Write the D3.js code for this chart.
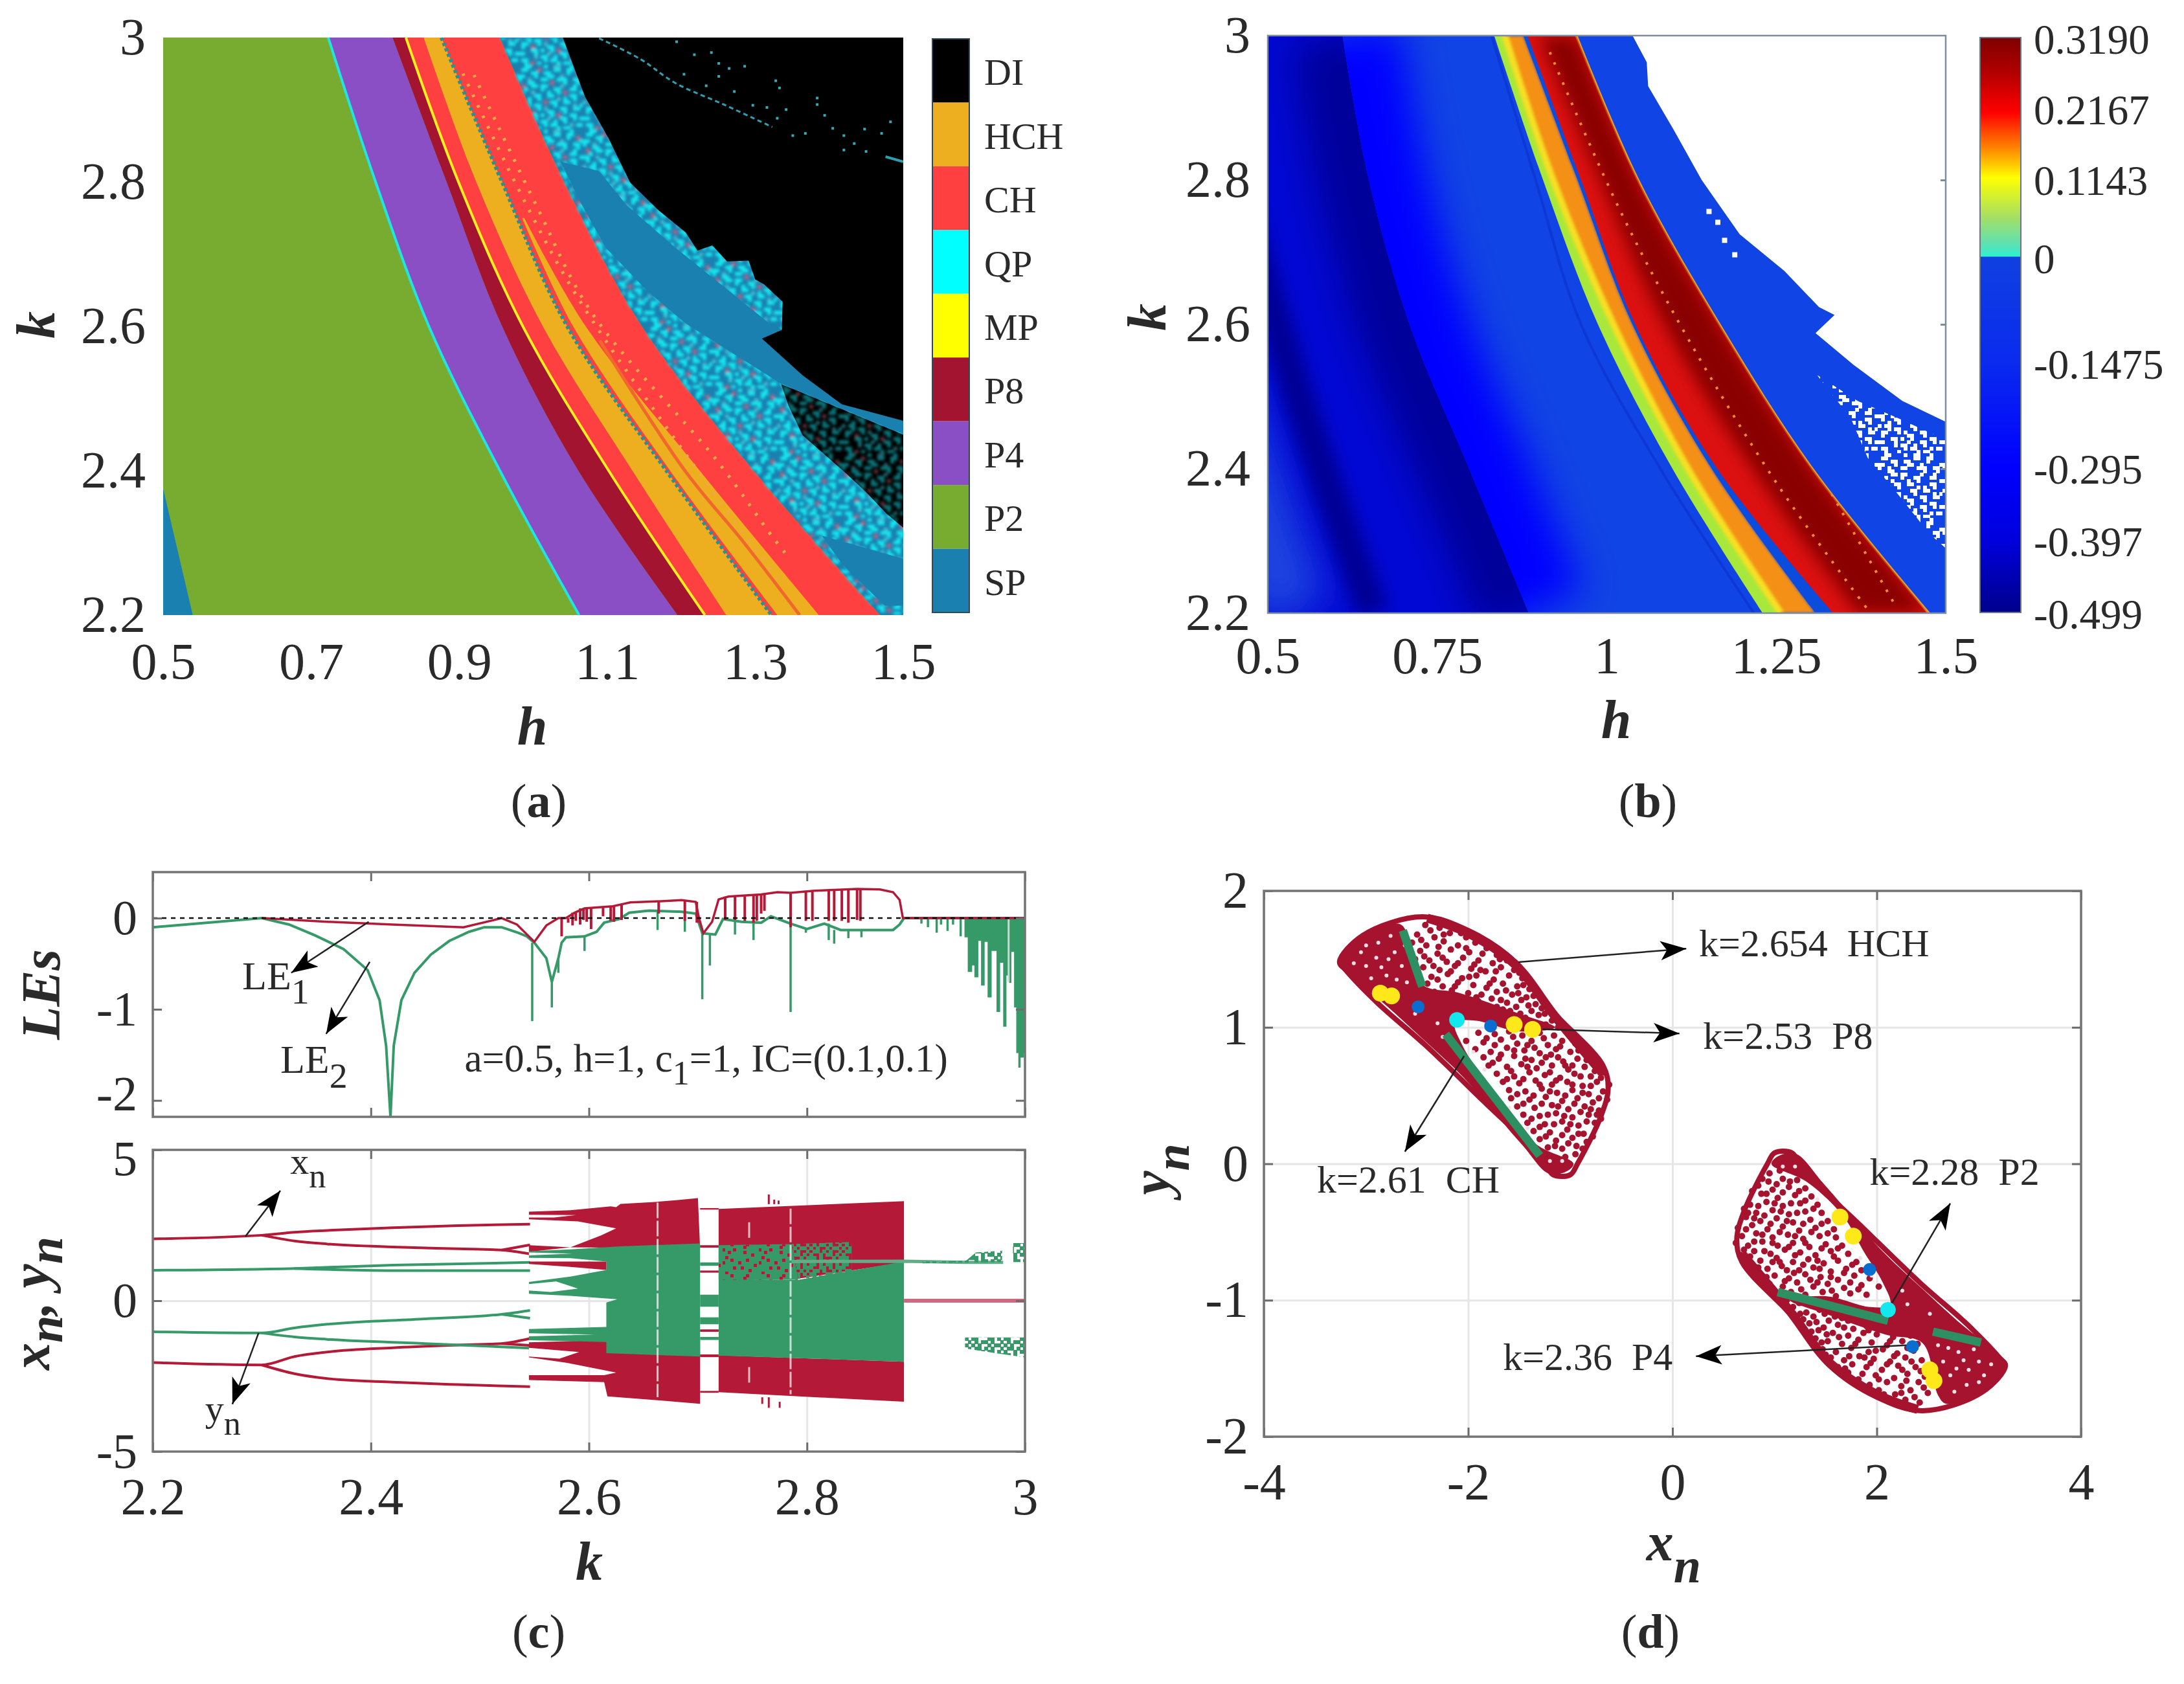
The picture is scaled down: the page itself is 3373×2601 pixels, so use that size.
<!DOCTYPE html>
<html>
<head>
<meta charset="utf-8">
<script src="https://cdn.jsdelivr.net/npm/d3@7"></script>
<style>
  html, body { margin: 0; background: #fff; }
  text { font-family: "Liberation Serif", serif; fill: #2a2a2a; }
</style>
</head>
<body>
<script>
// ---------- panel (a) / (b): curves, h at each k level
const kLevels = [3, 2.8, 2.6, 2.4, 2.2]
const p2p4 = [0.723, 0.787, 0.859, 0.955, 1.062]
const p4p8 = [0.81, 0.883, 0.958, 1.061, 1.195]
const mpLine = [0.828, 0.899, 0.986, 1.102, 1.232]
const hchStart = [0.852, 0.923, 1.013, 1.134, 1.261]
const hchEnd = [0.876, 0.958, 1.046, 1.18, 1.322]
const chEnd = [0.955, 1.042, 1.147, 1.298, 1.469]
const hch2K = [2.75, 2.6, 2.4, 2.2]
const hch2A = [0.985, 1.054, 1.185, 1.33]
const hch2B = [0.988, 1.071, 1.225, 1.386]
const hch2Stripe = [[1.09, 2.58], [1.205, 2.4], [1.285, 2.3], [1.36, 2.2]]
const chDots1 = [[0.92, 2.948], [1.004, 2.768], [1.079, 2.619], [1.249, 2.413], [1.325, 2.306], [1.347, 2.278]]
const chDots2 = [[0.905, 2.95], [0.985, 2.78], [1.06, 2.64], [1.215, 2.41], [1.33, 2.25]]
const spCorner = [[0.5, 2.375], [0.54, 2.2], [0.5, 2.2]]
const diRegion = [[1.04, 3], [1.07, 2.918], [1.102, 2.86], [1.131, 2.799], [1.17, 2.76], [1.206, 2.73], [1.222, 2.705], [1.242, 2.712], [1.262, 2.69], [1.291, 2.691], [1.3, 2.665], [1.312, 2.658], [1.337, 2.634], [1.336, 2.595], [1.309, 2.583], [1.364, 2.532], [1.417, 2.492], [1.5, 2.469], [1.5, 3]]
const diPatch = [[1.335, 2.52], [1.5, 2.45], [1.5, 2.321], [1.478, 2.34], [1.45, 2.37], [1.424, 2.395], [1.364, 2.449], [1.345, 2.49]]
const spBand = [[1.037, 2.828], [1.067, 2.766], [1.098, 2.709], [1.154, 2.649], [1.206, 2.604], [1.334, 2.521], [1.5, 2.451], [1.5, 2.469], [1.417, 2.492], [1.364, 2.532], [1.309, 2.583], [1.336, 2.595], [1.319, 2.604], [1.192, 2.709], [1.126, 2.768], [1.089, 2.815]]
const spLower = [[1.39, 2.31], [1.5, 2.278], [1.5, 2.213], [1.475, 2.213], [1.418, 2.27]]
const diArc = [[1.089, 2.999], [1.145, 2.97], [1.192, 2.937], [1.258, 2.907], [1.323, 2.876]]
const diArc2 = [[1.476, 2.835], [1.5, 2.828]]
const diDots = [[1.192, 2.996], [1.239, 2.981], [1.216, 2.978], [1.249, 2.966], [1.284, 2.962], [1.263, 2.959], [1.202, 2.951], [1.249, 2.948], [1.326, 2.942], [1.331, 2.932], [1.232, 2.935], [1.27, 2.927], [1.382, 2.918], [1.382, 2.909], [1.295, 2.908], [1.314, 2.905], [1.34, 2.902], [1.392, 2.894], [1.328, 2.89], [1.481, 2.885], [1.403, 2.876], [1.446, 2.875], [1.469, 2.869], [1.366, 2.869], [1.349, 2.866], [1.418, 2.866], [1.432, 2.855], [1.418, 2.846], [1.448, 2.844]]
const regionNames = ['DI', 'HCH', 'CH', 'QP', 'MP', 'P8', 'P4', 'P2', 'SP']
const regionColors = ['#000000', '#edae20', '#ff4040', '#00ffff', '#ffff00', '#a2142f', '#8a4fc4', '#77ac30', '#1a80b0']

// panel (b)
const edge1 = [0.61, 0.649, 0.709, 0.797, 0.885]
const edge2 = [0.406, 0.452, 0.513, 0.58, 0.656]
const edge3 = [0.83, 0.895, 0.962, 1.079, 1.217]
const greenStart = [0.834, 0.906, 0.987, 1.097, 1.23]
const orangeStart = [0.85, 0.921, 1.01, 1.12, 1.257]
const orangeEnd = [0.877, 0.957, 1.038, 1.155, 1.308]
const redStart = [0.883, 0.962, 1.042, 1.163, 1.334]
const darkStart = [0.9, 0.99, 1.085, 1.215, 1.37]
const redEnd = [0.955, 1.046, 1.166, 1.303, 1.475]
const redDots1 = [[0.916, 2.977], [1.018, 2.761], [1.12, 2.58], [1.252, 2.378], [1.385, 2.205]]
const redDots2 = [[0.967, 2.977], [1.089, 2.761], [1.201, 2.58], [1.324, 2.378], [1.426, 2.21]]
const whiteRegion = [[1.038, 3], [1.059, 2.963], [1.061, 2.93], [1.099, 2.869], [1.14, 2.8], [1.196, 2.725], [1.262, 2.674], [1.313, 2.624], [1.336, 2.613], [1.308, 2.588], [1.364, 2.544], [1.436, 2.494], [1.5, 2.465], [1.5, 3]]
const whitePatch = [[1.31, 2.53], [1.37, 2.494], [1.43, 2.47], [1.5, 2.44], [1.5, 2.29], [1.476, 2.31], [1.425, 2.37], [1.385, 2.415], [1.36, 2.47]]
const whiteDots = [[1.147, 2.76], [1.16, 2.745], [1.17, 2.72], [1.185, 2.7], [1.26, 2.697], [1.27, 2.69], [1.31, 2.845], [1.105, 2.99], [1.12, 2.98]]
const lyapTicks = [0.319, 0.2167, 0.1143, 0, -0.1475, -0.295, -0.397, -0.499]
const lyapLabels = ['0.3190', '0.2167', '0.1143', '0', '-0.1475', '-0.295', '-0.397', '-0.499']
const lyapStops = [[0.319, '#7f0000'], [0.27, '#b00000'], [0.21, '#ff0000'], [0.16, '#ff8000'], [0.115, '#ffff00'], [0.06, '#a8e060'], [0.02, '#60e0b0'], [0.001, '#30f0d0'], [0, '#1040e0'], [-0.15, '#0a2aee'], [-0.295, '#0000ff'], [-0.397, '#0000dd'], [-0.499, '#00008c']]

// panel (c): Lyapunov exponents
const le1K = [2.3, 2.36, 2.42, 2.485, 2.52, 2.534, 2.55, 2.561, 2.572, 2.579, 2.587, 2.596, 2.622, 2.631, 2.638, 2.661, 2.685, 2.698, 2.701, 2.705, 2.713, 2.719, 2.728, 2.758, 2.773, 2.785, 2.807, 2.846, 2.867, 2.879, 2.885, 2.888, 3]
const le1V = [0, -0.04, -0.07, -0.1, 0, -0.07, -0.26, -0.08, 0, 0, 0.06, 0.107, 0.13, 0.154, 0.173, 0.183, 0.197, 0.178, 0, -0.166, -0.04, 0.206, 0.237, 0.26, 0.285, 0.278, 0.3, 0.32, 0.315, 0.285, 0.2, 0, 0]
const le2K = [2.2, 2.3, 2.325, 2.349, 2.375, 2.397, 2.408, 2.414, 2.418, 2.421, 2.428, 2.44, 2.455, 2.472, 2.49, 2.504, 2.52, 2.535, 2.543, 2.55, 2.561, 2.566, 2.572, 2.575, 2.579, 2.596, 2.607, 2.614, 2.628, 2.637, 2.655, 2.685, 2.698, 2.704, 2.716, 2.723, 2.74, 2.758, 2.767, 2.785, 2.8, 2.816, 2.831, 2.852, 2.879, 2.885, 2.889, 3]
const le2V = [-0.1, 0, -0.07, -0.19, -0.34, -0.57, -0.9, -1.4, -2.18, -1.4, -0.9, -0.6, -0.4, -0.25, -0.15, -0.1, -0.1, -0.16, -0.2, -0.27, -0.44, -0.7, -0.44, -0.27, -0.21, -0.2, -0.15, -0.05, -0.01, 0.06, 0.083, 0.07, 0.05, -0.166, -0.18, -0.01, -0.04, -0.05, 0.02, -0.06, -0.12, -0.06, -0.13, -0.13, -0.13, -0.07, 0, 0]
const le1Spikes = [[2.575, -0.2], [2.581, -0.05], [2.585, -0.08], [2.588, -0.03], [2.592, -0.07], [2.595, -0.02], [2.598, -0.04], [2.602, -0.12], [2.613, 0.02], [2.62, -0.03], [2.623, -0.04], [2.63, -0.02], [2.664, 0.05], [2.688, -0.03], [2.699, -0.05], [2.701, -0.05], [2.725, -0.02], [2.734, -0.02], [2.743, -0.03], [2.751, -0.05], [2.754, -0.03], [2.758, 0.05], [2.761, 0.08], [2.785, -0.1], [2.799, -0.03], [2.805, -0.03], [2.82, -0.03], [2.825, -0.03], [2.832, -0.03], [2.838, -0.05], [2.846, -0.02], [2.849, -0.03]]
const le2Spikes = [[2.548, -1.13], [2.566, -0.98], [2.572, -0.6], [2.596, -0.36], [2.663, -0.13], [2.688, -0.15], [2.704, -0.89], [2.711, -0.52], [2.734, -0.18], [2.751, -0.24], [2.785, -1.03], [2.799, -0.16], [2.82, -0.24], [2.825, -0.28], [2.838, -0.22], [2.85, -0.21], [2.905, -0.06], [2.911, -0.1], [2.919, -0.16], [2.923, -0.07], [2.929, -0.14], [2.934, -0.07], [2.941, -0.2]]
const combK = [2.9445, 2.9475, 2.9515, 2.9536, 2.9572, 2.9597, 2.963, 2.9657, 2.9694, 2.9739, 2.9772, 2.98, 2.983, 2.9854, 2.9875, 2.99, 2.992, 2.9939, 2.996, 2.999, 3]
const combV = [-0.21, -0.59, -0.52, -0.65, -0.25, -0.74, -0.26, -0.87, -0.36, -1.03, -0.49, -1.19, -0.63, -0.71, -0.37, -0.98, -1.48, -1.64, -1.53, -1.48, -1.48]

// panel (c): bifurcation diagram, [k, value]
const xBranches = [
  [[2.2, 2.05], [2.3, 2.17], [2.33, 2.27], [2.36, 2.33], [2.42, 2.42], [2.48, 2.49], [2.546, 2.54]],
  [[2.3, 2.17], [2.33, 1.98], [2.36, 1.88], [2.42, 1.78], [2.48, 1.72], [2.52, 1.68], [2.546, 1.55]],
  [[2.52, 1.68], [2.546, 1.85]],
  [[2.2, -2.05], [2.3, -2.13], [2.33, -1.85], [2.36, -1.7], [2.42, -1.56], [2.48, -1.47], [2.52, -1.42], [2.546, -1.25]],
  [[2.52, -1.42], [2.546, -1.48]],
  [[2.3, -2.13], [2.33, -2.42], [2.36, -2.58], [2.42, -2.7], [2.48, -2.78], [2.546, -2.85]]
]
const yBranches = [
  [[2.2, 1.01], [2.33, 1.07], [2.42, 1.18], [2.546, 1.27]],
  [[2.33, 1.07], [2.42, 1.0], [2.546, 1.0]],
  [[2.2, -1.03], [2.3, -1.07], [2.33, -0.9], [2.36, -0.78], [2.45, -0.6], [2.52, -0.45], [2.546, -0.32]],
  [[2.52, -0.45], [2.546, -0.58]],
  [[2.3, -1.07], [2.33, -1.2], [2.36, -1.28], [2.45, -1.42], [2.546, -1.57]]
]
const redBlocks = [
  [[2.545, 2.95], [2.583, 3.0], [2.62, 3.13], [2.625, 3.1], [2.629, 3.21], [2.663, 3.28], [2.68, 3.33], [2.7, 3.4], [2.702, 1.73], [2.583, 1.77], [2.611, 2.16], [2.625, 2.4], [2.59, 2.63], [2.545, 2.7]],
  [[2.719, 3.04], [2.889, 3.3], [2.889, 1.27], [2.792, 0.73], [2.719, 0.73]],
  [[2.545, 1.84], [2.583, 1.77], [2.545, 1.62]],
  [[2.545, -1.38], [2.612, -1.31], [2.702, -1.31], [2.702, -3.42], [2.663, -3.3], [2.617, -3.17], [2.614, -2.7], [2.545, -2.63], [2.545, -2.47], [2.614, -2.47], [2.625, -2.38], [2.58, -2.06], [2.545, -1.88]],
  [[2.719, -1.81], [2.889, -2.02], [2.889, -3.35], [2.719, -3.03]]
]
const redWedge = [[2.545, 1.3], [2.616, 1.3], [2.616, 1.02], [2.583, 1.12], [2.545, 1.22]]
const greenBlocks = [
  [[2.702, 1.9], [2.629, 1.8], [2.583, 1.7], [2.545, 1.64], [2.545, 1.42], [2.583, 1.41], [2.616, 1.3], [2.616, 1.02], [2.583, 0.8], [2.545, 0.62], [2.545, 0.23], [2.583, 0.16], [2.626, 0.05], [2.616, -0.06], [2.616, -0.87], [2.545, -0.94], [2.545, -1.31], [2.616, -1.37], [2.616, -1.74], [2.702, -1.85]],
  [[2.719, 0.72], [2.792, 0.69], [2.889, 1.3], [2.889, -2.02], [2.719, -1.82]],
  [[2.719, 1.84], [2.786, 1.88], [2.792, 0.7], [2.719, 0.7]]
]
const whiteCuts = [
  [[2.545, 2.85], [2.588, 2.84], [2.568, 2.76], [2.545, 2.76]],
  [[2.545, 0.55], [2.57, 0.64], [2.59, 0.4], [2.565, 0.29], [2.545, 0.34]],
  [[2.545, -1.08], [2.605, -1.12], [2.545, -1.18]],
  [[2.545, 1.6], [2.585, 1.56], [2.545, 1.5]],
  [[2.545, -1.56], [2.591, -1.7], [2.573, -1.92], [2.545, -1.85]]
]
// cross bars in the window near k = 2.71: [low, high, colour index]
const gapBars = [[3.02, 3.07, 0], [1.76, 1.84, 0], [1.16, 1.27, 1], [0.93, 1.0, 0], [-0.2, 0.2, 1], [-0.78, -0.55, 1], [-1.03, -0.95, 0], [-1.3, -1.2, 1], [-1.87, -1.78, 0], [-3.05, -2.99, 0]]
const slits = [[2.663, 3.25, -3.2], [2.785, 3.05, -3.1], [2.747, 2.6, 2.0], [2.747, -2.2, -2.8]]
const redJitter = [[2.765, 3.2, 3.52], [2.77, 3.2, 3.35], [2.774, 3.2, 3.32], [2.765, -3.55, -3.2], [2.759, -3.42, -3.2], [2.775, -3.55, -3.35]]
const mixZone = [[2.719, 1.84], [2.786, 1.88], [2.792, 0.7], [2.719, 0.7]]
const mixZone2 = [[2.786, 1.88], [2.841, 1.95], [2.841, 0.85], [2.792, 0.73]]
const tailLine = [[2.786, 1.3], [2.889, 1.31], [2.945, 1.27], [2.98, 1.27]]
const tailUp = [[2.906, 1.3], [2.946, 1.33], [2.955, 1.6], [2.979, 1.66], [2.979, 1.28], [2.906, 1.24]]
const tailUp2 = [[2.989, 1.91], [3, 1.91], [3, 1.28], [2.989, 1.28]]
const tailLow = [[2.945, -1.22], [3, -1.22], [3, -1.88], [2.97, -1.72], [2.945, -1.58]]

// panel (d): one lobe of the attractor, the other lobe is its point reflection
const lobeOutline = [[-3.26, 1.48], [-3.03, 1.675], [-2.45, 1.81], [-2, 1.71], [-1.54, 1.48], [-1.2, 1.14], [-0.68, 0.72], [-0.63, 0.55], [-0.7, 0.35], [-0.93, 0], [-1, -0.08], [-1.17, -0.08], [-1.27, 0.04], [-1.81, 0.43], [-2.42, 0.87], [-2.89, 1.18], [-3.2, 1.42]]
const lobeDense = [[-3.27, 1.475], [-3.06, 1.649], [-2.68, 1.759], [-2.6, 1.696], [-2.45, 1.316], [-2.09, 1.253], [-1.5, 1.1], [-1.15, 1], [-1.5, 0.97], [-1.94, 1.05], [-2.13, 1.032], [-2.05, 0.858], [-1.88, 0.652], [-1.67, 0.383], [-1.31, 0.13], [-0.97, 0.003], [-1.01, -0.044], [-1.2, -0.076], [-1.48, 0.146], [-2.05, 0.636], [-2.43, 0.905], [-2.85, 1.19], [-3.17, 1.38]]
const lobeEdge = [[-2.4, 1.8], [-2, 1.69], [-1.54, 1.46], [-1.15, 1.08], [-0.68, 0.66]]
const lobeHoles = [[-3, 1.45], [-2.9, 1.51], [-3.05, 1.55], [-2.8, 1.38], [-2.72, 1.55], [-2.65, 1.45], [-2.95, 1.36], [-2.78, 1.5], [-2.85, 1.44], [-2.62, 1.6], [-3.12, 1.47], [-2.7, 1.35], [-3.0, 1.6], [-2.88, 1.62], [-2.76, 1.67], [-2.6, 1.33], [-2.52, 1.1], [-2.3, 1.03], [-2.25, 0.93], [-1.95, 0.82], [-1.84, 0.69], [-1.6, 0.41], [-1.42, 0.26], [-1.2, 0.02], [-1.08, 0.02]]
const lobeDots = [
  [-2.42, 1.75], [-2.28, 1.73], [-2.12, 1.72], [-2.5, 1.68], [-2.33, 1.66], [-2.18, 1.69], [-2.02, 1.66], [-2.55, 1.62], [-2.41, 1.6], [-2.24, 1.63], [-2.1, 1.6], [-1.93, 1.62],
  [-2.47, 1.56], [-2.3, 1.54], [-2.17, 1.57], [-1.99, 1.55], [-1.82, 1.58], [-1.72, 1.53], [-2.52, 1.5], [-2.38, 1.49], [-2.21, 1.48], [-2.05, 1.51], [-1.9, 1.49], [-1.76, 1.47], [-1.62, 1.49],
  [-2.44, 1.44], [-2.28, 1.42], [-2.13, 1.45], [-1.97, 1.43], [-1.83, 1.41], [-1.68, 1.44], [-1.55, 1.42], [-2.36, 1.37], [-2.2, 1.39], [-2.06, 1.36], [-1.92, 1.38], [-1.75, 1.35], [-1.6, 1.38], [-1.47, 1.36],
  [-2.4, 1.32], [-2.25, 1.3], [-2.1, 1.33], [-1.95, 1.31], [-1.82, 1.29], [-1.66, 1.32], [-1.52, 1.3], [-1.4, 1.28], [-2.33, 1.26], [-2.16, 1.27], [-2, 1.25], [-1.87, 1.24], [-1.72, 1.26], [-1.57, 1.24], [-1.43, 1.22],
  [-2.05, 1.2], [-1.9, 1.19], [-1.77, 1.21], [-1.62, 1.18], [-1.48, 1.2], [-1.34, 1.17], [-1.95, 1.14], [-1.82, 1.16], [-1.66, 1.13], [-1.53, 1.15], [-1.38, 1.12], [-1.25, 1.1], [-1.7, 1.08], [-1.58, 1.09], [-1.44, 1.07], [-1.31, 1.09], [-1.18, 1.05],
  [-1.24, 1.02], [-1.12, 1], [-1.9, 0.96], [-1.74, 0.95], [-1.6, 0.97], [-1.47, 0.94], [-1.3, 0.96], [-1.16, 0.94], [-1.03, 0.97], [-2.02, 0.9], [-1.85, 0.89], [-1.68, 0.91], [-1.52, 0.88], [-1.38, 0.9], [-1.22, 0.87], [-1.08, 0.9], [-0.95, 0.88],
  [-1.93, 0.84], [-1.78, 0.82], [-1.62, 0.85], [-1.45, 0.83], [-1.3, 0.81], [-1.14, 0.84], [-1, 0.82], [-0.87, 0.85], [-1.85, 0.78], [-1.7, 0.77], [-1.55, 0.79], [-1.38, 0.76], [-1.24, 0.78], [-1.07, 0.75], [-0.93, 0.77], [-0.8, 0.79],
  [-1.8, 0.72], [-1.62, 0.71], [-1.48, 0.73], [-1.33, 0.7], [-1.18, 0.72], [-1.02, 0.69], [-0.86, 0.71], [-0.72, 0.73], [-1.72, 0.66], [-1.55, 0.64], [-1.4, 0.67], [-1.25, 0.65], [-1.1, 0.63], [-0.96, 0.66], [-0.8, 0.64], [-0.67, 0.67],
  [-1.66, 0.6], [-1.5, 0.59], [-1.34, 0.61], [-1.18, 0.58], [-1.03, 0.6], [-0.88, 0.57], [-0.74, 0.6], [-0.62, 0.58], [-1.6, 0.54], [-1.44, 0.53], [-1.28, 0.55], [-1.13, 0.52], [-0.98, 0.54], [-0.82, 0.51], [-0.68, 0.53],
  [-1.58, 0.48], [-1.4, 0.47], [-1.24, 0.49], [-1.08, 0.46], [-0.93, 0.48], [-0.78, 0.45], [-0.64, 0.47], [-1.52, 0.42], [-1.35, 0.41], [-1.18, 0.43], [-1.02, 0.4], [-0.86, 0.42], [-0.72, 0.39],
  [-1.46, 0.36], [-1.3, 0.35], [-1.14, 0.37], [-0.98, 0.34], [-0.82, 0.36], [-0.7, 0.33], [-1.42, 0.3], [-1.25, 0.29], [-1.08, 0.31], [-0.92, 0.28], [-0.76, 0.3], [-1.36, 0.24], [-1.2, 0.23], [-1.03, 0.25], [-0.87, 0.22], [-0.78, 0.2],
  [-1.3, 0.18], [-1.14, 0.17], [-0.98, 0.19], [-0.84, 0.16], [-1.22, 0.12], [-1.08, 0.11], [-0.94, 0.13], [-1.2, 0.06], [-1.05, 0.05], [-0.95, 0.07]
]
// second pass of dots, off the rows above
const lobeDots2 = [
  [-2.37, 1.71], [-2.24, 1.68], [-2.07, 1.69], [-2.46, 1.64], [-2.29, 1.59], [-2.02, 1.58], [-1.86, 1.54], [-2.43, 1.52], [-2.25, 1.51], [-2.1, 1.47], [-1.94, 1.46], [-1.69, 1.5], [-2.34, 1.45], [-2.17, 1.41], [-1.88, 1.42], [-1.73, 1.41], [-1.5, 1.4],
  [-2.3, 1.35], [-2.13, 1.3], [-1.99, 1.37], [-1.79, 1.32], [-1.63, 1.27], [-1.46, 1.31], [-1.92, 1.22], [-1.68, 1.2], [-1.51, 1.25], [-1.36, 1.23], [-1.41, 1.16], [-1.72, 1.15], [-1.59, 1.12], [-1.28, 1.14], [-1.49, 1.1],
  [-1.82, 0.92], [-1.56, 0.93], [-1.42, 0.87], [-1.26, 0.92], [-1.1, 0.86], [-0.98, 0.92], [-1.74, 0.87], [-1.55, 0.83], [-1.35, 0.85], [-1.19, 0.8], [-0.92, 0.83], [-1.68, 0.8], [-1.44, 0.77], [-1.28, 0.74], [-1.12, 0.78], [-0.98, 0.72], [-0.84, 0.76],
  [-1.76, 0.74], [-1.58, 0.68], [-1.42, 0.71], [-1.2, 0.67], [-1.05, 0.72], [-0.9, 0.64], [-0.76, 0.68], [-1.62, 0.62], [-1.46, 0.62], [-1.3, 0.58], [-1.14, 0.61], [-0.98, 0.58], [-0.8, 0.57], [-0.7, 0.63],
  [-1.52, 0.51], [-1.36, 0.5], [-1.2, 0.53], [-1.05, 0.5], [-0.88, 0.52], [-0.72, 0.48], [-1.46, 0.44], [-1.28, 0.44], [-1.12, 0.42], [-0.96, 0.44], [-0.8, 0.4], [-1.38, 0.33], [-1.22, 0.36], [-1.06, 0.35], [-0.9, 0.38], [-0.74, 0.36],
  [-1.3, 0.27], [-1.16, 0.29], [-1, 0.29], [-0.84, 0.31], [-1.24, 0.2], [-1.08, 0.21], [-0.92, 0.22], [-1.15, 0.13], [-1.02, 0.15], [-0.88, 0.11]
]
const greenSegs = [
  [[-2.64, 1.71], [-2.45, 1.3]],
  [[-2.22, 0.95], [-1.3, 0.06]],
  [[1.03, -0.94], [2.11, -1.15]],
  [[2.55, -1.23], [3.02, -1.31]]
]
const yellowPts = [[-2.86, 1.25], [-2.75, 1.23], [-1.55, 1.02], [-1.37, 0.985], [1.64, -0.39], [1.77, -0.53], [2.52, -1.51], [2.56, -1.59]]
const bluePts = [[-2.49, 1.15], [-1.78, 1.01], [1.93, -0.775], [2.35, -1.34]]
const cyanPts = [[-2.11, 1.055], [2.11, -1.07]]
const phaseNotes = [
  { text: 'k=2.654  HCH', x: 0.26, y: 1.52, from: [-1.508, 1.478], to: [0.135, 1.577] },
  { text: 'k=2.53  P8', x: 0.3, y: 0.84, from: [-1.27, 0.986], to: [0.068, 0.955] },
  { text: 'k=2.61  CH', x: -3.48, y: -0.21, from: [-2.04, 0.79], to: [-2.62, 0.089] },
  { text: 'k=2.28  P2', x: 1.93, y: -0.155, from: [2.15, -1.02], to: [2.72, -0.29] },
  { text: 'k=2.36  P4', x: -1.66, y: -1.51, from: [2.29, -1.33], to: [0.23, -1.41] }
]

// tiles for the speckled zones, one char per cell
const speckRows = [
  '..cc....c..tt...c...', '.cc...p....cc..cc...', '....cc..cc.....c..p.', 'cc...c...cc..t.....c',
  'c..t...cc...ccc..cc.', '...cc.....p...c...c.', '.p..cc.cc....t...c..', '..c....c...cc...cc..',
  'cc..t....c..c.p....c', '.c...cc..cc.....cc..', '...c..c.....t.c..c..', 't.cc....p.cc..cc....',
  '...c.cc....c.....t.c', '.cc...c.t....cc..cc.', '.c..p....cc...c.....', '....cc.c..c.p...cc..',
  'cc...c...t...cc..c.c', '.....t.cc..c..c.....', '.cc.....c.cc....t.cc', '..c.p.c.....c.cc....'
]
const mixRows = ['..c.....c.....', '.......c......', '...c.........c', '.c.....c......', '..........c...', 'c.............', '..c.....c.....', '.....c.......c', '...........c..', '...c..c.......', '.........c....', 'c.............']
const sparseRows = ['cc.c.cc.c.', 'c..cc.c.cc', '.cc.c..c.c', 'cc...cc.c.', '.c.cc.c..c', 'c.c..c.cc.', '.cc.c.c..c', 'c..c.cc.c.', 'cc.c...c.c', '.c.cc.c.c.']

const width = 3373
const height = 2601
const red = '#b41a37'
const green = '#369a68'
const crimson = '#a6132f'

const svg = d3.select('body').append('svg').attr('width', width).attr('height', height)
svg.append('rect').attr('width', width).attr('height', height).attr('fill', '#fff')
const defs = svg.append('defs')

function makePattern(id, rows, palette, cell) {
  const p = defs.append('pattern').attr('id', id).attr('patternUnits', 'userSpaceOnUse')
    .attr('width', rows[0].length * cell).attr('height', rows.length * cell)
  rows.forEach((row, r) => {
    row.split('').forEach((ch, c) => {
      if (palette[ch]) {
        p.append('rect').attr('x', c * cell).attr('y', r * cell).attr('width', cell + 1).attr('height', cell + 1).attr('fill', palette[ch])
      }
    })
  })
}
makePattern('speck', speckRows, { c: '#14e6ee', t: '#3fbcd0', p: '#c2607e' }, 5)
makePattern('whiteSpeck', speckRows, { c: '#fff', t: '#fff' }, 5)
makePattern('redOnGreen', mixRows, { c: red }, 4)
makePattern('greenOnRed', sparseRows, { c: green }, 5)

defs.append('marker').attr('id', 'head').attr('markerUnits', 'userSpaceOnUse')
  .attr('markerWidth', 50).attr('markerHeight', 40).attr('refX', 40).attr('refY', 15).attr('orient', 'auto')
  .append('path').attr('d', 'M0,0L40,15L0,30L10,15Z').attr('fill', '#000')
defs.append('filter').attr('id', 'blur30').attr('x', '-60%').attr('width', '220%')
  .append('feGaussianBlur').attr('stdDeviation', 30)
defs.append('filter').attr('id', 'blur12').attr('x', '-30%').attr('width', '160%')
  .append('feGaussianBlur').attr('stdDeviation', 12)
defs.append('filter').attr('id', 'blur2')
  .append('feGaussianBlur').attr('stdDeviation', 2)

function addClip(id, box) {
  defs.append('clipPath').attr('id', id).append('rect')
    .attr('x', box.l).attr('y', box.t).attr('width', box.r - box.l).attr('height', box.b - box.t)
}

// ---------- shared helpers
function bandRows(a, b) {
  return kLevels.map((k, i) => ({ k, a: a[i], b: Array.isArray(b) ? b[i] : b }))
}
function bandPath(x, y) {
  return d3.area().y((d) => y(d.k)).x0((d) => x(d.a)).x1((d) => x(d.b)).curve(d3.curveCatmullRom.alpha(0.5))
}
function curvePath(x, y) {
  return d3.line().x((d) => x(d[0])).y((d) => y(d[1])).curve(d3.curveCatmullRom.alpha(0.5))
}
function curvePoints(h) {
  return kLevels.map((k, i) => [h[i], k])
}
function polyPath(x, y) {
  return d3.line().x((d) => x(d[0])).y((d) => y(d[1])).curve(d3.curveLinearClosed)
}

function styleAxis(g, fontSize, tickColor) {
  g.select('.domain').remove()
  g.selectAll('text').attr('font-size', fontSize).attr('fill', '#2a2a2a')
  g.selectAll('line').attr('stroke', tickColor).attr('stroke-width', 3)
}

function frame(g, box, color, w) {
  g.append('rect').attr('x', box.l).attr('y', box.t).attr('width', box.r - box.l).attr('height', box.b - box.t)
    .attr('fill', 'none').attr('stroke', color).attr('stroke-width', w)
}

function axisText(x, y, str, size, rotate) {
  const t = svg.append('text').attr('text-anchor', 'middle').attr('font-size', size)
    .attr('font-weight', 'bold').attr('font-style', 'italic').text(str)
  t.attr('transform', `translate(${x},${y})` + (rotate ? ' rotate(-90)' : ''))
  return t
}

function subText(g, x, y, main, sub, size) {
  const t = g.append('text').attr('x', x).attr('y', y).attr('font-size', size).text(main)
  t.append('tspan').attr('dy', size * 0.36).attr('font-size', size * 0.9).text(sub)
  return t
}

function caption(x, y, letter) {
  const t = svg.append('text').attr('x', x).attr('y', y).attr('text-anchor', 'middle').attr('font-size', 74).text('(')
  t.append('tspan').attr('font-weight', 'bold').text(letter)
  t.append('tspan').text(')')
}

function arrow(g, x, y, from, to, w) {
  g.append('line').attr('x1', x(from[0])).attr('y1', y(from[1])).attr('x2', x(to[0])).attr('y2', y(to[1]))
    .attr('stroke', '#222').attr('stroke-width', w).attr('marker-end', 'url(#head)')
}

// ---------- (a) dynamics map
const boxA = { l: 252, r: 1395, t: 58, b: 950 }
addClip('clipA', boxA)
const xA = d3.scaleLinear().domain([0.5, 1.5]).range([boxA.l, boxA.r])
const yA = d3.scaleLinear().domain([2.2, 3]).range([boxA.b, boxA.t])
const gA = svg.append('g').attr('clip-path', 'url(#clipA)')
const bandA = bandPath(xA, yA)
const lineA = curvePath(xA, yA)
const polyA = polyPath(xA, yA)

gA.append('rect').attr('x', boxA.l).attr('y', boxA.t).attr('width', boxA.r - boxA.l).attr('height', boxA.b - boxA.t).attr('fill', regionColors[7])
gA.append('path').attr('d', polyA(spCorner)).attr('fill', regionColors[8])
gA.append('path').attr('d', bandA(bandRows(p2p4, p4p8))).attr('fill', regionColors[6])
gA.append('path').attr('d', bandA(bandRows(p4p8, mpLine))).attr('fill', regionColors[5])
gA.append('path').attr('d', bandA(bandRows(mpLine, chEnd))).attr('fill', regionColors[2])
gA.append('path').attr('d', bandA(bandRows(hchStart, hchEnd))).attr('fill', regionColors[1])
gA.append('path').attr('d', bandA(hch2K.map((k, i) => ({ k, a: hch2A[i], b: hch2B[i] })))).attr('fill', regionColors[1])
gA.append('path').attr('d', lineA(hch2Stripe)).attr('fill', 'none').attr('stroke', '#f0682c').attr('stroke-width', 5)
gA.append('path').attr('d', bandA(bandRows(chEnd, 1.52))).attr('fill', regionColors[8])
gA.append('path').attr('d', bandA(bandRows(chEnd, 1.52))).attr('fill', 'url(#speck)').attr('filter', 'url(#blur2)')
gA.append('path').attr('d', polyA(diPatch)).attr('fill', '#000')
gA.append('path').attr('d', polyA(diPatch)).attr('fill', 'url(#speck)').attr('opacity', 0.5).attr('filter', 'url(#blur2)')
gA.append('path').attr('d', polyA(spLower)).attr('fill', regionColors[8])
gA.append('path').attr('d', polyA(spBand)).attr('fill', regionColors[8])
gA.append('path').attr('d', polyA(diRegion)).attr('fill', '#000')

gA.append('path').attr('d', lineA(curvePoints(p2p4))).attr('fill', 'none').attr('stroke', '#1fe6e0').attr('stroke-width', 4)
gA.append('path').attr('d', lineA(curvePoints(mpLine))).attr('fill', 'none').attr('stroke', '#f6f020').attr('stroke-width', 4)
gA.append('path').attr('d', lineA(curvePoints(hchEnd))).attr('fill', 'none').attr('stroke', '#2f8f90').attr('stroke-width', 6).attr('stroke-dasharray', '5 4')
;[chDots1, chDots2].forEach((pts) => {
  gA.append('path').attr('d', lineA(pts)).attr('fill', 'none').attr('stroke', '#f0a848').attr('stroke-width', 5).attr('stroke-dasharray', '4 14')
})
gA.append('path').attr('d', lineA(diArc)).attr('fill', 'none').attr('stroke', '#2f9fae').attr('stroke-width', 3).attr('stroke-dasharray', '7 5')
gA.append('path').attr('d', lineA(diArc2)).attr('fill', 'none').attr('stroke', '#2f9fae').attr('stroke-width', 4)
gA.selectAll('.di-dot').data(diDots).join('rect').attr('class', 'di-dot')
  .attr('x', (d) => xA(d[0])).attr('y', (d) => yA(d[1])).attr('width', 4).attr('height', 4).attr('fill', '#3aa7b4')

const axA = svg.append('g')
axA.append('g').attr('transform', `translate(0,${boxA.b})`)
  .call(d3.axisBottom(xA).tickValues([0.5, 0.7, 0.9, 1.1, 1.3, 1.5]).tickFormat(String).tickSize(0).tickPadding(42))
  .call((g) => styleAxis(g, 80, 'none'))
axA.append('g').attr('transform', `translate(${boxA.l},0)`)
  .call(d3.axisLeft(yA).tickValues([2.2, 2.4, 2.6, 2.8, 3]).tickFormat(String).tickSize(0).tickPadding(27))
  .call((g) => styleAxis(g, 80, 'none'))
axisText(822, 1150, 'h', 84)
axisText(84, 502, 'k', 84, true)
caption(832, 1262, 'a')

const legendA = d3.scaleBand().domain(regionNames).range([60, 946])
const legA = svg.append('g')
legA.selectAll('rect').data(regionNames).join('rect')
  .attr('x', 1440).attr('width', 57).attr('y', (d) => legendA(d)).attr('height', legendA.bandwidth())
  .attr('fill', (d, i) => regionColors[i])
legA.append('rect').attr('x', 1440).attr('y', 60).attr('width', 57).attr('height', 886).attr('fill', 'none').attr('stroke', '#33475a').attr('stroke-width', 2)
legA.selectAll('text').data(regionNames).join('text')
  .attr('x', 1520).attr('y', (d) => legendA(d) + legendA.bandwidth() / 2 + 22).attr('font-size', 58).text((d) => d)

// ---------- (b) largest Lyapunov exponent map
const boxB = { l: 1958, r: 3005, t: 55, b: 947 }
addClip('clipB', boxB)
const xB = d3.scaleLinear().domain([0.5, 1.5]).range([boxB.l, boxB.r])
const yB = d3.scaleLinear().domain([2.2, 3]).range([boxB.b, boxB.t])
const gB = svg.append('g').attr('clip-path', 'url(#clipB)')
const bandB = bandPath(xB, yB)
const lineB = curvePath(xB, yB)
const polyB = polyPath(xB, yB)

defs.append('clipPath').attr('id', 'rightOfEdge1').append('path').attr('d', bandB(bandRows(edge1, 1.6)))
defs.append('clipPath').attr('id', 'leftOfEdge1').append('path').attr('d', bandB(bandRows(edge1, 0.2)))
defs.append('clipPath').attr('id', 'redBand').append('path').attr('d', bandB(bandRows(redStart, redEnd)))

gB.append('rect').attr('x', boxB.l).attr('y', boxB.t).attr('width', boxB.r - boxB.l).attr('height', boxB.b - boxB.t).attr('fill', '#1144e4')
gB.append('path').attr('d', bandB(bandRows(edge1, 0.2))).attr('fill', '#0208d4')
gB.append('path').attr('d', lineB(curvePoints(edge2))).attr('fill', 'none').attr('stroke', '#1c44e0').attr('stroke-width', 110).attr('filter', 'url(#blur30)').attr('transform', 'translate(-125,0)')
const leftSide = gB.append('g').attr('clip-path', 'url(#leftOfEdge1)')
leftSide.append('path').attr('d', lineB(curvePoints(edge1))).attr('fill', 'none').attr('stroke', '#00009a').attr('stroke-width', 160).attr('filter', 'url(#blur30)')
gB.append('path').attr('d', lineB(curvePoints(edge2))).attr('fill', 'none').attr('stroke', '#000096').attr('stroke-width', 50).attr('filter', 'url(#blur12)')
const rightSide = gB.append('g').attr('clip-path', 'url(#rightOfEdge1)')
rightSide.append('path').attr('d', lineB(curvePoints(edge1))).attr('fill', 'none').attr('stroke', '#0000ff').attr('stroke-width', 180).attr('filter', 'url(#blur30)')
gB.append('path').attr('d', lineB(curvePoints(edge3))).attr('fill', 'none').attr('stroke', '#0a2cc8').attr('stroke-width', 4).attr('opacity', 0.5)

const hot = gB.append('g')
hot.append('path').attr('d', bandB(bandRows(greenStart, orangeStart))).attr('fill', '#a8e83c')
hot.append('path').attr('d', bandB(bandRows(orangeStart, orangeEnd))).attr('fill', '#f49012').attr('filter', 'url(#blur2)')
hot.append('path').attr('d', lineB(curvePoints(orangeStart))).attr('fill', 'none').attr('stroke', '#f8e020').attr('stroke-width', 10).attr('filter', 'url(#blur2)')
hot.append('path').attr('d', bandB(bandRows(orangeEnd, redStart))).attr('fill', '#0c4cdc')
hot.append('path').attr('d', bandB(bandRows(redStart, redEnd))).attr('fill', '#dc1010')
const redInner = gB.append('g').attr('clip-path', 'url(#redBand)')
redInner.append('path').attr('d', bandB(bandRows(darkStart, redEnd))).attr('fill', '#8a0000').attr('filter', 'url(#blur12)')
;[redDots1, redDots2].forEach((pts) => {
  redInner.append('path').attr('d', lineB(pts)).attr('fill', 'none').attr('stroke', '#f08838').attr('stroke-width', 4).attr('stroke-dasharray', '4 13')
})
hot.append('path').attr('d', lineB(curvePoints(redEnd))).attr('fill', 'none').attr('stroke', '#f09a28').attr('stroke-width', 4)
gB.append('path').attr('d', polyB(whiteRegion)).attr('fill', '#fff')
gB.append('path').attr('d', polyB(whitePatch)).attr('fill', 'url(#whiteSpeck)')
gB.selectAll('.w-dot').data(whiteDots).join('rect').attr('class', 'w-dot')
  .attr('x', (d) => xB(d[0])).attr('y', (d) => yB(d[1])).attr('width', 8).attr('height', 8).attr('fill', '#fff')

const axB = svg.append('g')
axB.append('g').attr('transform', `translate(0,${boxB.b})`)
  .call(d3.axisBottom(xB).tickValues([0.5, 0.75, 1, 1.25, 1.5]).tickFormat(String).tickSize(0).tickPadding(36))
  .call((g) => styleAxis(g, 80, 'none'))
axB.append('g').attr('transform', `translate(${boxB.l},0)`)
  .call(d3.axisLeft(yB).tickValues([2.2, 2.4, 2.6, 2.8, 3]).tickFormat(String).tickSize(0).tickPadding(27))
  .call((g) => styleAxis(g, 80, 'none'))
frame(axB, boxB, '#7d8da0', 2.5)
axB.append('g').attr('transform', `translate(${boxB.r},0)`)
  .call(d3.axisLeft(yB).tickValues([2.4, 2.6, 2.8]).tickFormat('').tickSize(8))
  .call((g) => styleAxis(g, 10, '#7d8da0'))
axisText(2496, 1140, 'h', 84)
axisText(1800, 490, 'k', 84, true)
caption(2545, 1262, 'b')

const yBar = d3.scaleLinear().domain([-0.499, 0, 0.319]).range([946, 397, 58])
const barGrad = defs.append('linearGradient').attr('id', 'barGrad').attr('x1', 0).attr('x2', 0).attr('y1', 0).attr('y2', 1)
barGrad.selectAll('stop').data(lyapStops).join('stop')
  .attr('offset', (d) => (yBar(d[0]) - 58) / (946 - 58)).attr('stop-color', (d) => d[1])
svg.append('rect').attr('x', 3058).attr('y', 58).attr('width', 63).attr('height', 888).attr('fill', 'url(#barGrad)').attr('stroke', '#6a7888').attr('stroke-width', 2)
svg.append('g').attr('transform', 'translate(3121,4)')
  .call(d3.axisRight(yBar).tickValues(lyapTicks).tickFormat((d, i) => lyapLabels[i]).tickSize(0).tickPadding(20))
  .call((g) => styleAxis(g, 65, 'none'))

// ---------- (c) exponents and bifurcation diagram
const boxC1 = { l: 236, r: 1583, t: 1347, b: 1725 }
const boxC2 = { l: 236, r: 1583, t: 1776, b: 2242 }
addClip('clipC1', boxC1)
addClip('clipC2', boxC2)
const kAxis = d3.scaleLinear().domain([2.2, 3]).range([boxC1.l, boxC1.r])
const yLE = d3.scaleLinear().domain([-2.18, 0.505]).range([boxC1.b, boxC1.t])
const yBif = d3.scaleLinear().domain([-5, 5]).range([boxC2.b, boxC2.t])
const kTicks = [2.2, 2.4, 2.6, 2.8, 3]

function boxedAxes(box, x, y, xTicks, yTicks, withLabelsX, ySize) {
  const g = svg.append('g')
  g.append('g').attr('transform', `translate(0,${box.b})`)
    .call(d3.axisBottom(x).tickValues(xTicks).tickFormat(withLabelsX ? String : '').tickSize(-14).tickPadding(40))
    .call((s) => styleAxis(s, 80, '#6c6c6c'))
  g.append('g').attr('transform', `translate(0,${box.t})`)
    .call(d3.axisTop(x).tickValues(xTicks).tickFormat('').tickSize(-14))
    .call((s) => styleAxis(s, 10, '#6c6c6c'))
  g.append('g').attr('class', 'y-left').attr('transform', `translate(${box.l},0)`)
    .call(d3.axisLeft(y).tickValues(yTicks).tickFormat(String).tickSize(-14).tickPadding(24))
    .call((s) => styleAxis(s, ySize || 80, '#6c6c6c'))
  g.append('g').attr('transform', `translate(${box.r},0)`)
    .call(d3.axisRight(y).tickValues(yTicks).tickFormat('').tickSize(-14))
    .call((s) => styleAxis(s, 10, '#6c6c6c'))
  frame(g, box, '#747474', 3.5)
  return g
}

function gridLines(box, x, y, xTicks, yTicks) {
  const g = svg.append('g')
  g.append('g').attr('transform', `translate(0,${box.b})`)
    .call(d3.axisBottom(x).tickValues(xTicks).tickFormat('').tickSize(box.t - box.b))
    .call((s) => styleAxis(s, 10, '#e6e6e6'))
  g.append('g').attr('transform', `translate(${box.l},0)`)
    .call(d3.axisLeft(y).tickValues(yTicks).tickFormat('').tickSize(box.l - box.r))
    .call((s) => styleAxis(s, 10, '#e6e6e6'))
}

// value of a read series at the listed k nearest to k0
function valueAt(keys, vals, k0) {
  const i = d3.bisectCenter(keys, k0)
  return vals[i]
}

gridLines(boxC2, kAxis, yBif, kTicks, [0])
const gC1 = svg.append('g').attr('clip-path', 'url(#clipC1)')
const leLine = d3.line().x((d) => kAxis(d[0])).y((d) => yLE(d[1]))
gC1.append('path').attr('d', leLine(le2K.map((k, i) => [k, le2V[i]]))).attr('fill', 'none').attr('stroke', green).attr('stroke-width', 4)
gC1.selectAll('.spike2').data(le2Spikes).join('line').attr('class', 'spike2')
  .attr('x1', (d) => kAxis(d[0])).attr('x2', (d) => kAxis(d[0]))
  .attr('y1', (d) => yLE(valueAt(le2K, le2V, d[0])))
  .attr('y2', (d) => yLE(d[1]))
  .attr('stroke', green).attr('stroke-width', 3.5)
gC1.append('path')
  .attr('d', d3.area().x((d, i) => kAxis(combK[i])).y0(yLE(0)).y1((d) => yLE(d)).curve(d3.curveStepAfter)(combV))
  .attr('fill', green)
gC1.append('line').attr('x1', kAxis(2.985)).attr('x2', kAxis(2.985)).attr('y1', yLE(0)).attr('y2', yLE(-0.7)).attr('stroke', '#bfe0cf').attr('stroke-width', 3)
gC1.append('path').attr('d', leLine(le1K.map((k, i) => [k, le1V[i]]))).attr('fill', 'none').attr('stroke', red).attr('stroke-width', 3.5)
gC1.selectAll('.spike1').data(le1Spikes).join('line').attr('class', 'spike1')
  .attr('x1', (d) => kAxis(d[0])).attr('x2', (d) => kAxis(d[0]))
  .attr('y1', (d) => yLE(valueAt(le1K, le1V, d[0])))
  .attr('y2', (d) => yLE(d[1]))
  .attr('stroke', red).attr('stroke-width', 4)
gC1.append('line').attr('x1', boxC1.l).attr('x2', boxC1.r).attr('y1', yLE(0)).attr('y2', yLE(0)).attr('stroke', '#111').attr('stroke-width', 2.5).attr('stroke-dasharray', '7 7')

const gC2 = svg.append('g').attr('clip-path', 'url(#clipC2)')
const bifLine = d3.line().x((d) => kAxis(d[0])).y((d) => yBif(d[1])).curve(d3.curveMonotoneX)
const bifPoly = polyPath(kAxis, yBif)
xBranches.forEach((b) => gC2.append('path').attr('d', bifLine(b)).attr('fill', 'none').attr('stroke', red).attr('stroke-width', 4))
yBranches.forEach((b) => gC2.append('path').attr('d', bifLine(b)).attr('fill', 'none').attr('stroke', green).attr('stroke-width', 4))
redBlocks.forEach((p) => gC2.append('path').attr('d', bifPoly(p)).attr('fill', red))
gC2.append('path').attr('d', bifPoly(mixZone2)).attr('fill', 'url(#greenOnRed)')
greenBlocks.forEach((p) => gC2.append('path').attr('d', bifPoly(p)).attr('fill', green))
gC2.append('path').attr('d', bifPoly(mixZone)).attr('fill', 'url(#redOnGreen)')
gC2.append('path').attr('d', bifPoly(redWedge)).attr('fill', red)
whiteCuts.forEach((p) => gC2.append('path').attr('d', bifPoly(p)).attr('fill', '#fff'))
gC2.selectAll('.gap-bar').data(gapBars).join('rect').attr('class', 'gap-bar')
  .attr('x', kAxis(2.702)).attr('width', kAxis(2.719) - kAxis(2.702))
  .attr('y', (d) => yBif(d[1])).attr('height', (d) => yBif(d[0]) - yBif(d[1]))
  .attr('fill', (d) => (d[2] ? green : red))
gC2.selectAll('.jit').data(redJitter).join('line').attr('class', 'jit')
  .attr('x1', (d) => kAxis(d[0])).attr('x2', (d) => kAxis(d[0])).attr('y1', (d) => yBif(d[1])).attr('y2', (d) => yBif(d[2]))
  .attr('stroke', red).attr('stroke-width', 3)
gC2.selectAll('.slit').data(slits).join('line').attr('class', 'slit')
  .attr('x1', (d) => kAxis(d[0])).attr('x2', (d) => kAxis(d[0])).attr('y1', (d) => yBif(d[1])).attr('y2', (d) => yBif(d[2]))
  .attr('stroke', '#fff').attr('stroke-width', 3).attr('opacity', 0.7).attr('stroke-dasharray', '24 4')
gC2.append('line').attr('x1', kAxis(2.889)).attr('x2', kAxis(3)).attr('y1', yBif(0)).attr('y2', yBif(0)).attr('stroke', '#cc6a80').attr('stroke-width', 6)
gC2.append('path').attr('d', d3.line().x((d) => kAxis(d[0])).y((d) => yBif(d[1]))(tailLine)).attr('fill', 'none').attr('stroke', '#5fae88').attr('stroke-width', 5)
gC2.append('path').attr('d', bifPoly(tailUp)).attr('fill', 'url(#greenOnRed)')
gC2.append('path').attr('d', bifPoly(tailUp2)).attr('fill', 'url(#greenOnRed)')
gC2.append('path').attr('d', bifPoly(tailLow)).attr('fill', 'url(#greenOnRed)')

const axC1 = boxedAxes(boxC1, kAxis, yLE, kTicks, [0, -1, -2], false, 76)
const axC2 = boxedAxes(boxC2, kAxis, yBif, kTicks, [5, 0, -5], true, 76)
// keep the two labels that meet between the panels apart
axC1.select('.y-left').selectAll('text').filter((d) => d === -2).attr('dy', '0.2em')
axC2.select('.y-left').selectAll('text').filter((d) => d === 5).attr('dy', '0.5em')

const noteC = svg.append('g')
arrow(noteC, kAxis, yLE, [2.398, -0.04], [2.327, -0.6], 2.5)
arrow(noteC, kAxis, yLE, [2.399, -0.48], [2.359, -1.27], 2.5)
subText(noteC, kAxis(2.282), yLE(-0.78), 'LE', '1', 62)
subText(noteC, kAxis(2.317), yLE(-1.7), 'LE', '2', 62)
const params = noteC.append('text').attr('x', kAxis(2.486)).attr('y', yLE(-1.68)).attr('font-size', 61).text('a=0.5, h=1, c')
params.append('tspan').attr('dy', 20).attr('font-size', 52).text('1')
params.append('tspan').attr('dy', -20).text('=1, IC=(0.1,0.1)')
arrow(noteC, kAxis, yBif, [2.285, 2.135], [2.317, 3.65], 2.5)
arrow(noteC, kAxis, yBif, [2.297, -1.07], [2.273, -3.43], 2.5)
subText(noteC, kAxis(2.326), yBif(4.2), 'x', 'n', 58)
subText(noteC, kAxis(2.248), yBif(-4), 'y', 'n', 58)

axisText(92, 1536, 'LEs', 84, true)
const xyLabel = svg.append('text').attr('text-anchor', 'middle').attr('font-size', 84).attr('font-weight', 'bold').attr('font-style', 'italic')
  .attr('transform', 'translate(76,2013) rotate(-90)').text('x')
xyLabel.append('tspan').attr('dy', 20).attr('font-size', 76).text('n')
xyLabel.append('tspan').attr('dy', -20).text(', y')
xyLabel.append('tspan').attr('dy', 20).attr('font-size', 76).text('n')
axisText(910, 2440, 'k', 84)
caption(832, 2545, 'c')

// ---------- (d) phase portraits
const boxD = { l: 1952, r: 3214, t: 1376, b: 2219 }
addClip('clipD', boxD)
const xD = d3.scaleLinear().domain([-4, 4]).range([boxD.l, boxD.r])
const yD = d3.scaleLinear().domain([-2, 2]).range([boxD.b, boxD.t])
gridLines(boxD, xD, yD, [-4, -2, 0, 2, 4], [-2, -1, 0, 1, 2])
const gD = svg.append('g').attr('clip-path', 'url(#clipD)')
const lineD = d3.line().x((d) => xD(d[0])).y((d) => yD(d[1])).curve(d3.curveCatmullRom)
const blobD = d3.line().x((d) => xD(d[0])).y((d) => yD(d[1])).curve(d3.curveCatmullRomClosed)

;[1, -1].forEach((sign) => {
  const flip = (pts) => pts.map((p) => [sign * p[0], sign * p[1]])
  gD.append('path').attr('d', blobD(flip(lobeOutline))).attr('fill', 'none').attr('stroke', crimson).attr('stroke-width', 8).attr('stroke-linejoin', 'round')
  gD.append('path').attr('d', blobD(flip(lobeDense))).attr('fill', crimson)
  gD.append('path').attr('d', lineD(flip(lobeEdge))).attr('fill', 'none').attr('stroke', crimson).attr('stroke-width', 14)
  gD.selectAll(`.dot${sign}`).data(flip(lobeDots.concat(lobeDots2))).join('circle').attr('class', `dot${sign}`)
    .attr('cx', (d) => xD(d[0])).attr('cy', (d) => yD(d[1])).attr('r', 5).attr('fill', crimson)
  gD.selectAll(`.hole${sign}`).data(flip(lobeHoles)).join('circle').attr('class', `hole${sign}`)
    .attr('cx', (d) => xD(d[0])).attr('cy', (d) => yD(d[1])).attr('r', 3).attr('fill', '#f5dfe6')
})
greenSegs.forEach((s) => {
  gD.append('path').attr('d', d3.line().x((d) => xD(d[0])).y((d) => yD(d[1]))(s)).attr('stroke', '#2e8f62').attr('stroke-width', 13).attr('fill', 'none')
})
gD.selectAll('.yellow').data(yellowPts).join('circle').attr('class', 'yellow')
  .attr('cx', (d) => xD(d[0])).attr('cy', (d) => yD(d[1])).attr('r', 13).attr('fill', '#ffe81a')
gD.selectAll('.blue').data(bluePts).join('circle').attr('class', 'blue')
  .attr('cx', (d) => xD(d[0])).attr('cy', (d) => yD(d[1])).attr('r', 10).attr('fill', '#0a6ed0')
gD.selectAll('.cyan').data(cyanPts).join('circle').attr('class', 'cyan')
  .attr('cx', (d) => xD(d[0])).attr('cy', (d) => yD(d[1])).attr('r', 12).attr('fill', '#12e8ee')

boxedAxes(boxD, xD, yD, [-4, -2, 0, 2, 4], [-2, -1, 0, 1, 2], true)
const noteD = svg.append('g')
phaseNotes.forEach((n) => {
  arrow(noteD, xD, yD, n.from, n.to, 2.5)
  noteD.append('text').attr('x', xD(n.x)).attr('y', yD(n.y)).attr('font-size', 60).style('white-space', 'pre').text(n.text)
})
const xnLabel = svg.append('text').attr('text-anchor', 'middle').attr('font-size', 84).attr('font-weight', 'bold').attr('font-style', 'italic')
  .attr('x', 2585).attr('y', 2410).text('x')
xnLabel.append('tspan').attr('dy', 34).attr('font-size', 76).text('n')
const ynLabel = svg.append('text').attr('text-anchor', 'middle').attr('font-size', 84).attr('font-weight', 'bold').attr('font-style', 'italic')
  .attr('transform', 'translate(1806,1806) rotate(-90)').text('y')
ynLabel.append('tspan').attr('dy', 30).attr('font-size', 76).text('n')
caption(2549, 2545, 'd')
</script>
</body>
</html>
